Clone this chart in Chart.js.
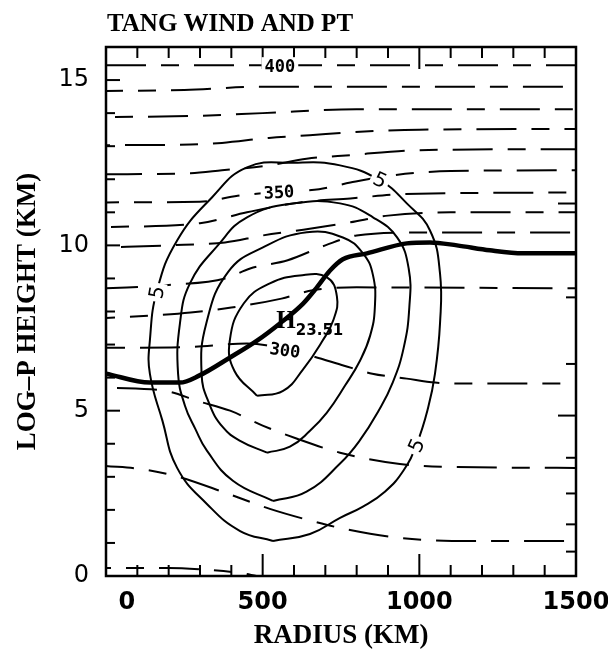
<!DOCTYPE html>
<html>
<head>
<meta charset="utf-8">
<title>TANG WIND AND PT</title>
<script src="https://cdn.jsdelivr.net/npm/chart.js@4.4.1/dist/chart.umd.min.js"></script>
<style>
  html,body{margin:0;padding:0;background:#fff;}
  canvas{display:block;}
</style>
</head>
<body>
<canvas id="tangChart" width="608" height="654"></canvas>
<script>
// axis ticks
const xTicks=[0,500,1000,1500];
const yTicks=[0,5,10,15];
const pressureTicks=[900,800,700,600,500,400,300,200]; // mb, marked on right edge
const scaleHeight=7; // km, log-p height = H*ln(1000/p)

// tangential wind contours (m/s): [radius km, height km]
const windLevels=[5,10,15,20];
const wind5=[[533,1.06],[428,1.36],[322,2.18],[227,3.27],[180,4.7],[140,6.12],[140,7.12],[163,8.64],[227,10.15],[338,11.45],[450,12.36],[600,12.5],[747,12.42],[874,11.97],[960,11.27],[1034,10.45],[1066,9.15],[1066,7.64],[1050,6.12],[1028,5.09],[992,4.0],[950,3.2],[890,2.55],[820,2.1],[747,1.76],[651,1.27],[533,1.06]];
const wind10=[[533,2.27],[405,2.88],[322,3.79],[285,4.45],[252,5.15],[230,6.12],[236,7.64],[268,8.85],[357,10.0],[450,10.85],[600,11.27],[747,11.27],[852,10.85],[929,10.24],[966,9.3],[968,8.12],[950,6.9],[915,5.85],[870,5.0],[810,4.1],[747,3.4],[640,2.55],[533,2.27]];
const wind15=[[514,3.73],[428,4.09],[373,4.5],[330,5.2],[305,6.12],[320,7.64],[390,9.2],[501,9.94],[641,10.4],[756,10.24],[820,9.76],[852,9.1],[858,8.12],[843,7.27],[811,6.52],[763,5.76],[705,4.94],[651,4.39],[587,3.91],[514,3.73]];
const wind20=[[482,5.45],[410,6.2],[395,7.12],[440,8.25],[523,8.85],[619,9.09],[705,9.03],[737,8.45],[726,7.75],[690,7.1],[629,6.25],[565,5.6],[482,5.45]];

// thick line
const thickLine=[[0,6.12],[140,5.85],[236,5.85],[297,6.06],[396,6.61],[482,7.12],[555,7.64],[629,8.24],[673,8.73],[715,9.24],[756,9.58],[833,9.76],[960,10.06],[1034,10.09],[1120,10.0],[1225,9.85],[1331,9.76],[1500,9.76]];

// potential temperature contours (K), dashed
const ptLevels=[400,390,380,370,360,350,340,330,320,310,300,290,280,270];
const pt400=[[0,15.45],[1500,15.45]];
const pt390=[[0,14.67],[250,14.7],[500,14.8],[1500,14.8]];
const pt380=[[0,13.88],[300,13.92],[500,14.0],[800,14.12],[1500,14.12]];
const pt370=[[0,13.03],[270,13.05],[370,13.1],[520,13.25],[650,13.33],[780,13.42],[1000,13.5],[1500,13.52]];
const pt360=[[0,12.15],[270,12.18],[370,12.27],[520,12.42],[640,12.62],[780,12.73],[1000,12.88],[1500,12.91]];
const pt350=[[0,11.3],[300,11.32],[420,11.5],[550,11.62],[680,11.7],[780,11.9],[900,12.1],[1100,12.25],[1500,12.27]];
const pt340=[[0,10.55],[300,10.67],[450,11.0],[620,11.3],[780,11.42],[950,11.55],[1500,11.6]];
const pt330=[[0,9.94],[200,10.0],[380,10.09],[500,10.3],[650,10.5],[780,10.7],[900,10.9],[1100,11.0],[1500,11.0]];
const pt320=[[0,8.7],[200,8.8],[380,9.0],[460,9.3],[580,9.55],[700,10.0],[800,10.3],[1000,10.39],[1500,10.39]];
const pt310=[[0,7.8],[150,7.88],[270,7.97],[400,8.12],[560,8.39],[660,8.64],[800,8.73],[1500,8.7]];
const pt300=[[0,6.9],[250,6.92],[450,7.03],[650,6.67],[760,6.36],[850,6.12],[960,5.97],[1050,5.85],[1150,5.82],[1500,5.82]];
const pt290=[[0,5.7],[200,5.58],[290,5.3],[396,5.0],[500,4.55],[610,4.15],[747,3.73],[938,3.39],[1100,3.3],[1500,3.27]];
const pt280=[[0,3.33],[108,3.24],[220,3.03],[380,2.52],[523,2.03],[667,1.64],[763,1.42],[938,1.15],[1162,1.06],[1500,1.06]];
const pt270=[[0,0.24],[200,0.24],[300,0.2],[430,0.09],[480,0.0]];
const ptLines=[pt400,pt390,pt380,pt370,pt360,pt350,pt340,pt330,pt320,pt310,pt300,pt290,pt280,pt270];

// contour labels: text, radius, height, rotation (deg)
const contourLabels=[
  ['400',555,15.42,0],
  ['350',552,11.6,-3],
  ['300',571,6.82,8],
  ['5',163,8.58,-80],
  ['5',874,11.97,25],
  ['5',992,3.94,-65]
];
const windMax={value:'23.51',x:574,y:7.7};

function toXY(arr){
  return arr.map(p=>({x:p[0],y:p[1]}));
}

const datasets=[];
[wind5,wind10,wind15,wind20].forEach((c,i)=>{
  datasets.push({
    label:'wind '+windLevels[i],
    data:toXY(c),
    showLine:true,
    pointRadius:0,
    borderColor:'#000',
    borderWidth:2,
    tension:0.45
  });
});
ptLines.forEach((c,i)=>{
  datasets.push({
    label:'pt '+ptLevels[i],
    data:toXY(c),
    showLine:true,
    pointRadius:0,
    borderColor:'#000',
    borderWidth:2,
    borderDash:[40,15,18,15],
    borderDashOffset:(i*23)%88,
    cubicInterpolationMode:'monotone'
  });
});
datasets.push({
  label:'thick',
  data:toXY(thickLine),
  showLine:true,
  pointRadius:0,
  borderColor:'#000',
  borderWidth:4.5,
  cubicInterpolationMode:'monotone'
});

// frame and inward ticks
const frameTicks={
  id:'frameTicks',
  afterDatasetsDraw(chart){
    const {ctx,chartArea:a,scales:{x,y}}=chart;
    const seg=(x1,y1,x2,y2)=>{ctx.beginPath();ctx.moveTo(x1,y1);ctx.lineTo(x2,y2);ctx.stroke();};
    ctx.save();
    ctx.strokeStyle='#000';
    ctx.lineWidth=2;
    for(let v=100;v<1500;v+=100){
      const px=x.getPixelForValue(v);
      const len=v%500===0?22:11;
      seg(px,a.bottom,px,a.bottom-len);
      seg(px,a.top,px,a.top+len);
    }
    for(let v=1;v<16;v++){
      const py=y.getPixelForValue(v);
      const len=v%5===0?14:9;
      seg(a.left,py,a.left+len,py);
    }
    pressureTicks.forEach(p=>{
      const py=y.getPixelForValue(scaleHeight*Math.log(1000/p));
      const len=(p===500||p===200)?18:10;
      seg(a.right,py,a.right-len,py);
    });
    ctx.lineWidth=2.5;
    ctx.strokeRect(a.left,a.top,a.right-a.left,a.bottom-a.top);
    ctx.restore();
  }
};

// contour labels and the main title
const textLayer={
  id:'textLayer',
  afterDraw(chart){
    const {ctx,scales:{x,y}}=chart;
    ctx.save();
    ctx.fillStyle='#000';
    ctx.textBaseline='middle';
    ctx.textAlign='center';
    contourLabels.forEach(([t,vx,vy,rot])=>{
      const px=x.getPixelForValue(vx), py=y.getPixelForValue(vy);
      ctx.save();
      ctx.translate(px,py);
      ctx.rotate(rot*Math.PI/180);
      ctx.font=t==='5'?'20px "DejaVu Sans"':'bold 17px "DejaVu Sans Mono"';
      const w=ctx.measureText(t).width;
      ctx.fillStyle='#fff';
      ctx.fillRect(-w/2-3,-9,w+6,18);
      ctx.fillStyle='#000';
      ctx.fillText(t,0,1);
      ctx.restore();
    });
    // maximum wind
    const hx=x.getPixelForValue(windMax.x), hy=y.getPixelForValue(windMax.y);
    ctx.font='bold 25px "Liberation Serif"';
    ctx.fillText('H',hx,hy);
    ctx.textAlign='left';
    ctx.font='bold 15px "DejaVu Sans"';
    ctx.fillText(windMax.value,hx+10,hy+10);
    // title
    ctx.font='bold 25px "Liberation Serif"';
    ctx.textBaseline='alphabetic';
    ctx.fillText('TANG WIND AND PT',107,31);
    ctx.restore();
  }
};

const ctx=document.getElementById('tangChart').getContext('2d');
new Chart(ctx,{
  type:'scatter',
  data:{datasets:datasets},
  options:{
    responsive:false,
    animation:false,
    devicePixelRatio:1,
    layout:{padding:{top:47,right:32,left:0,bottom:0}},
    plugins:{legend:{display:false},tooltip:{enabled:false},title:{display:false}},
    scales:{
      x:{
        type:'linear',min:0,max:1500,
        grid:{display:false,drawTicks:false},
        border:{display:false},
        afterBuildTicks(s){s.ticks=xTicks.map(v=>({value:v}));},
        ticks:{
          padding:12,color:'#000',maxRotation:0,autoSkip:false,
          font:{family:'DejaVu Sans',size:24,weight:'bold'},
          callback:v=>v===0?'\u2007\u2007 0':String(v)
        },
        title:{display:true,text:'RADIUS (KM)',color:'#000',font:{family:'Liberation Serif',size:27,weight:'bold'},padding:{top:0,bottom:2}},
        afterFit(s){s.height=78;s.paddingLeft=0;s.paddingRight=0;}
      },
      y:{
        type:'linear',min:0,max:16,
        grid:{display:false,drawTicks:false},
        border:{display:false},
        afterBuildTicks(s){s.ticks=yTicks.map(v=>({value:v}));},
        ticks:{padding:17,color:'#000',autoSkip:false,font:{family:'DejaVu Sans',size:24},callback:v=>String(v)},
        title:{display:true,text:'LOG\u2013P HEIGHT (KM)',color:'#000',font:{family:'Liberation Serif',size:27,weight:'bold'},padding:{top:12,bottom:0}},
        afterFit(s){s.width=106;s.paddingTop=0;s.paddingBottom=0;}
      }
    }
  },
  plugins:[frameTicks,textLayer]
});
</script>
</body>
</html>
